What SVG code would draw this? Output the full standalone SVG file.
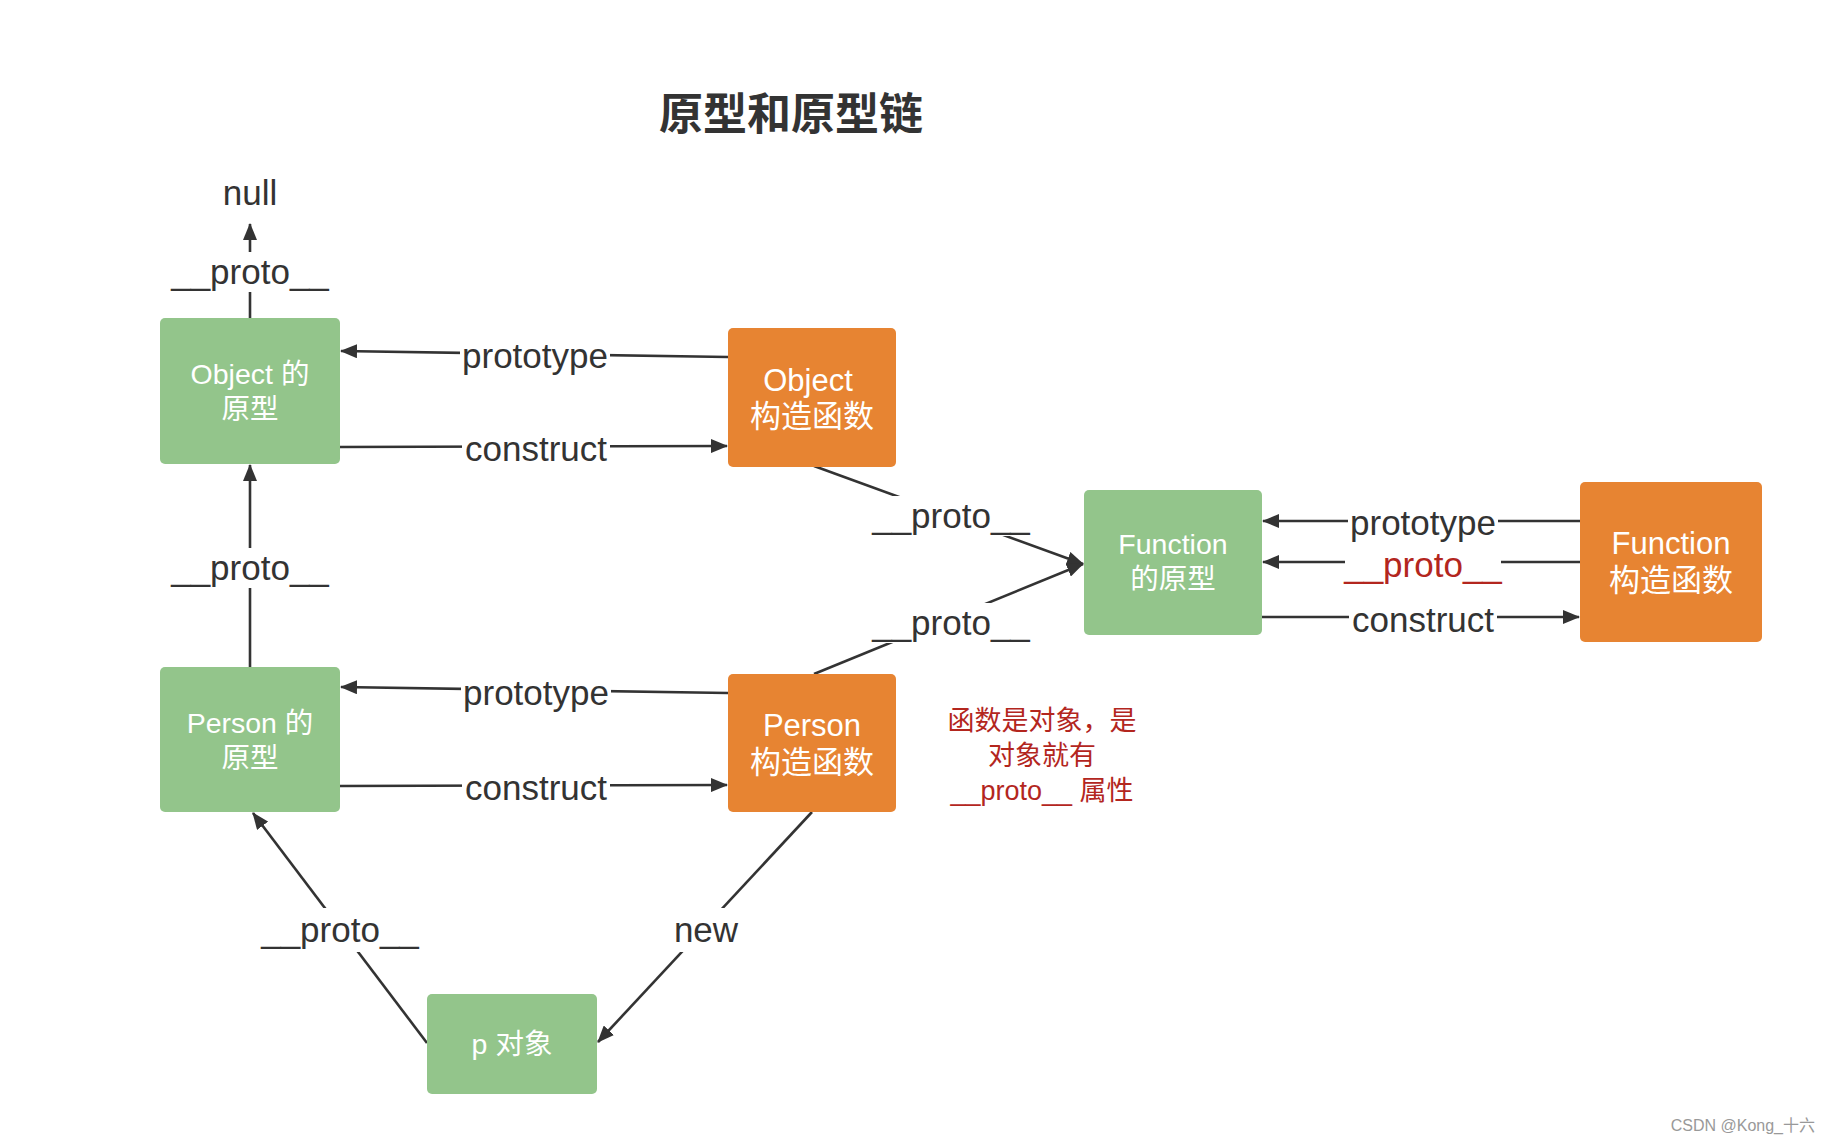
<svg xmlns="http://www.w3.org/2000/svg" width="1832" height="1144" viewBox="0 0 1832 1144">
<style>
.g{fill:#93c58b}
.o{fill:#e78432}
.nt{font-family:"Liberation Sans","Noto Sans CJK SC",sans-serif;fill:#fff;text-anchor:middle}
.gt{font-size:28.5px}
.ot{font-size:31px}
.ln{stroke:#333;stroke-width:2.6;fill:none}
.lb{font-family:"Liberation Sans","Noto Sans CJK SC",sans-serif;font-size:35px;fill:#333;text-anchor:middle}
.bg{fill:#fff}
.red{fill:#b3261e}
</style>
<defs>
<marker id="ah" markerUnits="userSpaceOnUse" markerWidth="18" markerHeight="14" refX="16" refY="7" orient="auto">
<path d="M0,0 L17,7 L0,14 Z" fill="#333"/>
</marker>
</defs>
<rect width="1832" height="1144" fill="#fff"/>
<text x="791" y="130" font-family="'Noto Sans CJK SC',sans-serif" font-size="44" font-weight="bold" fill="#333" text-anchor="middle">原型和原型链</text>

<g id="connectors">
<line class="ln" x1="250" y1="318" x2="250" y2="224" marker-end="url(#ah)"/>
<line class="ln" x1="728" y1="357" x2="341" y2="351" marker-end="url(#ah)"/>
<line class="ln" x1="340" y1="447" x2="727" y2="446" marker-end="url(#ah)"/>
<line class="ln" x1="250" y1="667" x2="250" y2="465" marker-end="url(#ah)"/>
<line class="ln" x1="814" y1="466" x2="1083" y2="564" marker-end="url(#ah)"/>
<line class="ln" x1="814" y1="674" x2="1083" y2="564" marker-end="url(#ah)"/>
<line class="ln" x1="1580" y1="521" x2="1263" y2="521" marker-end="url(#ah)"/>
<line class="ln" x1="1580" y1="562" x2="1263" y2="562" marker-end="url(#ah)"/>
<line class="ln" x1="1262" y1="617" x2="1579" y2="617" marker-end="url(#ah)"/>
<line class="ln" x1="728" y1="693" x2="341" y2="687" marker-end="url(#ah)"/>
<line class="ln" x1="340" y1="786" x2="727" y2="785" marker-end="url(#ah)"/>
<line class="ln" x1="427" y1="1043" x2="253" y2="813" marker-end="url(#ah)"/>
<line class="ln" x1="812" y1="812" x2="598" y2="1042" marker-end="url(#ah)"/>

<rect class="bg" x="172" y="252" width="156" height="40"/>
<text class="lb" x="250" y="284">__proto__</text>
<rect class="bg" x="460" y="334" width="150" height="42"/>
<text class="lb" x="535" y="368">prototype</text>
<rect class="bg" x="462" y="428" width="148" height="40"/>
<text class="lb" x="536" y="461">construct</text>
<rect class="bg" x="172" y="548" width="156" height="40"/>
<text class="lb" x="250" y="580">__proto__</text>
<rect class="bg" x="873" y="496" width="156" height="40"/>
<text class="lb" x="951" y="528">__proto__</text>
<rect class="bg" x="873" y="603" width="156" height="40"/>
<text class="lb" x="951" y="635">__proto__</text>
<rect class="bg" x="1348" y="501" width="150" height="42"/>
<text class="lb" x="1423" y="535">prototype</text>
<rect class="bg" x="1345" y="545" width="156" height="40"/>
<text class="lb red" x="1423" y="577">__proto__</text>
<rect class="bg" x="1349" y="599" width="148" height="40"/>
<text class="lb" x="1423" y="632">construct</text>
<rect class="bg" x="461" y="672" width="150" height="42"/>
<text class="lb" x="536" y="705">prototype</text>
<rect class="bg" x="462" y="768" width="148" height="40"/>
<text class="lb" x="536" y="800">construct</text>
<rect class="bg" x="262" y="908" width="156" height="44"/>
<text class="lb" x="340" y="942">__proto__</text>
<rect class="bg" x="668" y="908" width="76" height="44"/>
<text class="lb" x="706" y="942">new</text>
</g>

<text class="lb" x="250" y="205">null</text>

<g id="object-proto">
<rect class="g" x="160" y="318" width="180" height="146" rx="5"/>
<text class="nt gt" x="250" y="384">Object 的</text>
<text class="nt gt" x="250" y="419">原型</text>
</g>
<g id="object-ctor">
<rect class="o" x="728" y="328" width="168" height="139" rx="5"/>
<text class="nt ot" x="808" y="391">Object</text>
<text class="nt ot" x="812" y="427">构造函数</text>
</g>
<g id="function-proto">
<rect class="g" x="1084" y="490" width="178" height="145" rx="5"/>
<text class="nt gt" x="1173" y="554">Function</text>
<text class="nt gt" x="1173" y="589">的原型</text>
</g>
<g id="function-ctor">
<rect class="o" x="1580" y="482" width="182" height="160" rx="5"/>
<text class="nt ot" x="1671" y="554">Function</text>
<text class="nt ot" x="1671" y="591">构造函数</text>
</g>
<g id="person-proto">
<rect class="g" x="160" y="667" width="180" height="145" rx="5"/>
<text class="nt gt" x="250" y="733">Person 的</text>
<text class="nt gt" x="250" y="768">原型</text>
</g>
<g id="person-ctor">
<rect class="o" x="728" y="674" width="168" height="138" rx="5"/>
<text class="nt ot" x="812" y="736">Person</text>
<text class="nt ot" x="812" y="773">构造函数</text>
</g>
<g id="p-object">
<rect class="g" x="427" y="994" width="170" height="100" rx="5"/>
<text class="nt gt" x="512" y="1054">p 对象</text>
</g>

<g id="note" font-family="'Liberation Sans','Noto Sans CJK SC',sans-serif" font-size="27" fill="#b3261e" text-anchor="middle">
<text x="1042" y="730">函数是对象，是</text>
<text x="1042" y="765">对象就有</text>
<text x="1042" y="800">__proto__ 属性</text>
</g>

<text x="1815" y="1131" font-family="'Liberation Sans','Noto Sans CJK SC',sans-serif" font-size="16" fill="#999" text-anchor="end">CSDN @Kong_十六</text>
</svg>
